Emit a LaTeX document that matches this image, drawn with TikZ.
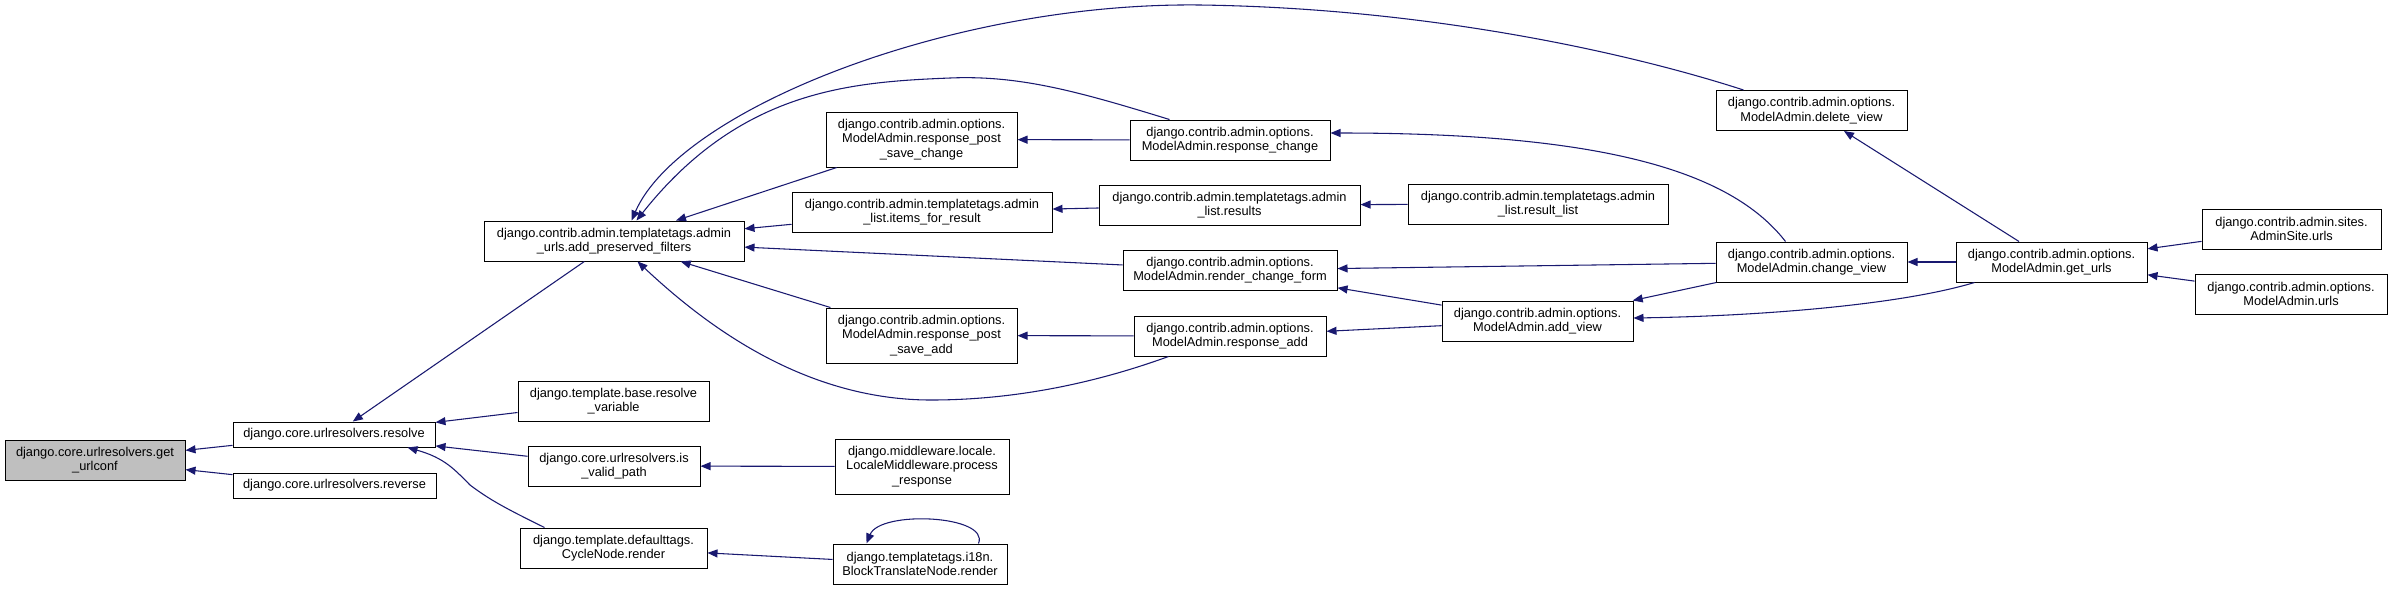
\documentclass[tikz,border=0pt]{standalone}
\usepackage{fontspec}
\setmainfont{Liberation Sans}
\usetikzlibrary{arrows.meta,calc}
\definecolor{edgec}{HTML}{191970}
\definecolor{rootfill}{HTML}{BFBFBF}
\begin{document}
\begin{tikzpicture}[x={(0.75pt,0)},y={(0,-0.75pt)},
  fn/.style 2 args={draw=black,line width=0.75pt,fill=white,inner sep=0pt,align=center,
    minimum width=#1*0.75pt,minimum height=#2*0.75pt,font=\fontsize{9.6pt}{10.7pt}\selectfont},
  call/.style={draw=edgec,line width=0.8pt,-{Triangle[length=7.5pt,width=6pt]},fill=none}]
\fill[white] (0,0) rectangle (2393,590);
\useasboundingbox (0,0) rectangle (2393,590);

% column 1
\node[fn={180}{40},fill=rootfill] (geturlconf) at (95,460) {django.core.urlresolvers.get\\\_urlconf};
% column 2
\node[fn={202}{25}] (resolve) at (334,434.5) {django.core.urlresolvers.resolve};
\node[fn={203}{25}] (reverse) at (334.5,485.5) {django.core.urlresolvers.reverse};
% column 3
\node[fn={260}{40}] (addpf) at (614,241) {django.contrib.admin.templatetags.admin\\\_urls.add\_preserved\_filters};
\node[fn={191}{40}] (resvar) at (613.5,401) {django.template.base.resolve\\\_variable};
\node[fn={172}{40}] (isvalid) at (614,466) {django.core.urlresolvers.is\\\_valid\_path};
\node[fn={187}{40}] (cycle) at (613.5,548) {django.template.defaulttags.\\CycleNode.render};
% column 4
\node[fn={191}{55}] (rpsc) at (921.5,139.5) {django.contrib.admin.options.\\ModelAdmin.response\_post\\\_save\_change};
\node[fn={260}{40}] (items) at (922,212) {django.contrib.admin.templatetags.admin\\\_list.items\_for\_result};
\node[fn={191}{55}] (rpsa) at (921.5,335.5) {django.contrib.admin.options.\\ModelAdmin.response\_post\\\_save\_add};
\node[fn={174}{55}] (locale) at (922,466.5) {django.middleware.locale.\\LocaleMiddleware.process\\\_response};
\node[fn={174}{40}] (block) at (920,564) {django.templatetags.i18n.\\BlockTranslateNode.render};
% column 5
\node[fn={200}{40}] (rchange) at (1230,140) {django.contrib.admin.options.\\ModelAdmin.response\_change};
\node[fn={261}{40}] (results) at (1229.5,205) {django.contrib.admin.templatetags.admin\\\_list.results};
\node[fn={214}{40}] (rcf) at (1230,270) {django.contrib.admin.options.\\ModelAdmin.render\_change\_form};
\node[fn={192}{40}] (radd) at (1230,336) {django.contrib.admin.options.\\ModelAdmin.response\_add};
% column 6
\node[fn={260}{40}] (resultlist) at (1538,204) {django.contrib.admin.templatetags.admin\\\_list.result\_list};
\node[fn={191}{40}] (addview) at (1537.5,321) {django.contrib.admin.options.\\ModelAdmin.add\_view};
% column 7
\node[fn={191}{40}] (delete) at (1811.5,110.5) {django.contrib.admin.options.\\ModelAdmin.delete\_view};
\node[fn={191}{40}] (change) at (1811.5,262) {django.contrib.admin.options.\\ModelAdmin.change\_view};
% column 8
\node[fn={191}{40}] (geturls) at (2051.5,262) {django.contrib.admin.options.\\ModelAdmin.get\_urls};
% column 9
\node[fn={179}{40}] (sites) at (2291.5,229) {django.contrib.admin.sites.\\AdminSite.urls};
\node[fn={192}{40}] (maurls) at (2291,294) {django.contrib.admin.options.\\ModelAdmin.urls};

% straight edges
\draw[call] (resolve) -- (geturlconf);
\draw[call] (reverse) -- (geturlconf);
\draw[call] (addpf) -- (resolve);
\draw[call] (resvar) -- (resolve);
\draw[call] (isvalid) -- (resolve);
\draw[call] (locale) -- (isvalid);
\draw[call] (block) -- (cycle);
\draw[call] (rpsc) -- (addpf);
\draw[call] (items) -- (addpf);
\draw[call] (rcf) -- (addpf);
\draw[call] (rpsa) -- (addpf);
\draw[call] (rchange) -- (rpsc);
\draw[call] (results) -- (items);
\draw[call] (resultlist) -- (results);
\draw[call] (radd) -- (rpsa);
\draw[call] (change) -- (rcf);
\draw[call] (addview) -- (rcf);
\draw[call] (addview) -- (radd);
\draw[call] (change) -- (addview);
\draw[call] (geturls) -- (change);
\draw[call] (geturls) -- (delete);
\draw[call] (sites) -- (geturls);
\draw[call] (maurls) -- (geturls);

% curved edges
\draw[call] ($(rchange.north west)+(40,0)$) .. controls (1080,92) and (1020,75) .. (950,78)
  .. controls (850,82) and (740,90) .. ($(addpf.north west)+(153,0)$);
\draw[call] ($(delete.north west)+(28,0)$) .. controls (1620,50) and (1420,8) .. (1200,5)
  .. controls (950,2) and (680,110) .. ($(addpf.north west)+(148,0)$);
\draw[call] ($(radd.south west)+(35,0)$) .. controls (1090,385) and (1010,400) .. (931,400)
  .. controls (800,400) and (700,320) .. ($(addpf.south west)+(154,0)$);
\draw[call] ($(cycle.north west)+(25,0)$) .. controls (505,508) and (490,500) .. (470,485)
  .. controls (455,470) and (445,458) .. ($(resolve.south west)+(175,0)$);
\draw[call] ($(change.north west)+(70,0)$) .. controls (1730,170) and (1600,133) .. ($(rchange.east)+(0,-7)$);
\draw[call] ($(geturls.south west)+(19,0)$) .. controls (1900,305) and (1760,316) .. ($(addview.east)+(0,-3)$);
\draw[call] ($(block.north west)+(146,0)$) .. controls (990,515) and (880,510) .. ($(block.north west)+(34,0)$);
\end{tikzpicture}
\end{document}
